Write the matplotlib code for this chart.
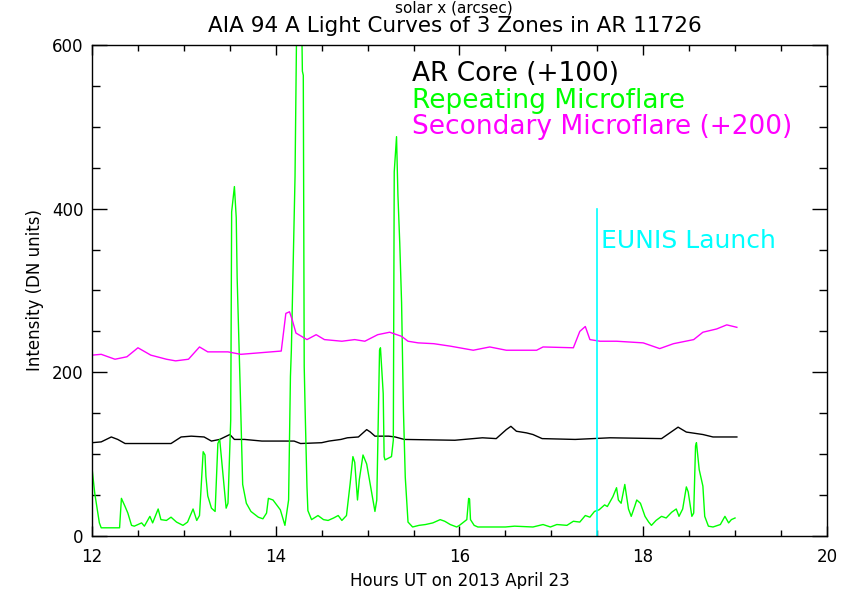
import numpy as np
import matplotlib
matplotlib.use("Agg")
import matplotlib.pyplot as plt
from matplotlib.ticker import MultipleLocator

# Repeating microflare (green), hours UT vs DN
green_t = [12.00, 12.03, 12.08, 12.10, 12.30, 12.32, 12.36, 12.39, 12.43, 12.46,
           12.54, 12.57, 12.63, 12.66, 12.72, 12.75, 12.81, 12.86, 12.92, 12.99,
           13.04, 13.10, 13.14, 13.17, 13.21, 13.23, 13.24, 13.26, 13.30, 13.34,
           13.37, 13.39, 13.43, 13.46, 13.48, 13.51, 13.52, 13.55, 13.57, 13.58,
           13.61, 13.63, 13.64, 13.68, 13.73, 13.81, 13.86, 13.90, 13.92, 13.97,
           14.05, 14.10, 14.14, 14.16, 14.17, 14.21, 14.23, 14.28, 14.29, 14.30,
           14.31, 14.32, 14.34, 14.35, 14.39, 14.46, 14.52, 14.57, 14.63, 14.68,
           14.72, 14.77, 14.81, 14.84, 14.86, 14.89, 14.91, 14.95, 14.99, 15.03,
           15.08, 15.10, 15.12, 15.13, 15.14, 15.17, 15.18, 15.19, 15.26, 15.28,
           15.29, 15.315, 15.33, 15.35, 15.37, 15.39, 15.41, 15.44, 15.49, 15.56,
           15.63, 15.71, 15.79, 15.84, 15.90, 15.97, 16.00, 16.08, 16.10, 16.11,
           16.12, 16.16, 16.20, 16.50, 16.60, 16.80, 16.91, 16.99, 17.06, 17.17,
           17.24, 17.31, 17.37, 17.42, 17.47, 17.52, 17.58, 17.61, 17.67, 17.71,
           17.73, 17.76, 17.80, 17.84, 17.87, 17.91, 17.93, 17.97, 18.02, 18.06,
           18.09, 18.14, 18.20, 18.25, 18.31, 18.36, 18.39, 18.43, 18.47, 18.49,
           18.53, 18.55, 18.57, 18.58, 18.61, 18.65, 18.67, 18.71, 18.76, 18.84,
           18.89, 18.93, 18.96, 19.00]
green_v = [83, 52, 16, 10, 10, 46, 36, 28, 13, 12,
           16, 12, 24, 16, 33, 20, 19, 23, 17, 13,
           17, 33, 19, 25, 103, 99, 73, 49, 34, 30,
           113, 118, 70, 34, 40, 142, 396, 427, 389, 315,
           193, 105, 63, 40, 30, 23, 21, 28, 46, 44,
           32, 13, 44, 195, 227, 439, 650, 650, 568, 563,
           207, 154, 60, 31, 20, 25, 20, 19, 22, 25,
           19, 25, 64, 97, 90, 44, 69, 99, 88, 62,
           30, 44, 170, 227, 230, 174, 97, 93, 97, 117,
           445, 488, 417, 358, 285, 154, 72, 17, 11, 13,
           14, 16, 20, 18, 14, 11, 13, 20, 46, 45,
           20, 13, 11, 11, 12, 11, 14, 11, 14, 13,
           18, 17, 25, 23, 30, 32, 38, 36, 48, 59,
           44, 40, 63, 33, 24, 37, 44, 40, 24, 17,
           13, 19, 24, 22, 29, 33, 24, 33, 60, 54,
           24, 28, 110, 114, 81, 61, 24, 12, 11, 14,
           24, 16, 20, 22]

# AR core (+100), black
core_t = [12.00, 12.10, 12.21, 12.28, 12.36, 12.86, 12.97, 13.08, 13.22, 13.30,
          13.39, 13.50, 13.55, 13.66, 13.85, 14.20, 14.27, 14.50, 14.58, 14.71,
          14.78, 14.90, 14.99, 15.03, 15.08, 15.23, 15.30, 15.40, 15.95, 16.25,
          16.40, 16.51, 16.56, 16.62, 16.73, 16.80, 16.90, 17.26, 17.64, 18.20,
          18.29, 18.38, 18.47, 18.65, 18.76, 19.02]
core_v = [114, 115, 121, 118, 113, 113, 121, 122, 121, 116,
          118, 124, 118, 118, 116, 116, 113, 114, 116, 118,
          120, 121, 130, 127, 122, 122, 121, 118, 117, 120,
          119, 130, 134, 128, 126, 124, 119, 118, 120, 119,
          126, 133, 127, 124, 121, 121]

# Secondary microflare (+200), magenta
sec_t = [12.00, 12.10, 12.25, 12.38, 12.50, 12.64, 12.81, 12.91, 13.05, 13.17,
         13.26, 13.48, 13.62, 13.84, 14.06, 14.11, 14.15, 14.18, 14.22, 14.34,
         14.44, 14.53, 14.72, 14.86, 14.97, 15.11, 15.24, 15.37, 15.44, 15.55,
         15.72, 15.90, 16.15, 16.33, 16.51, 16.84, 16.91, 17.24, 17.31, 17.37,
         17.42, 17.53, 17.71, 18.00, 18.18, 18.33, 18.55, 18.65, 18.80, 18.91,
         19.02]
sec_v = [221, 222, 216, 219, 230, 221, 216, 214, 216, 231,
         225, 225, 222, 224, 226, 272, 274, 264, 248, 240,
         246, 240, 238, 240, 238, 246, 249, 244, 238, 236,
         235, 232, 227, 231, 227, 227, 231, 230, 250, 256,
         240, 238, 238, 236, 229, 235, 240, 249, 253, 258,
         255]

launch_time = 17.5
launch_top = 400

fig = plt.figure(figsize=(8.56, 5.89), dpi=100)
ax = fig.add_axes([0.1075, 0.09, 0.8585, 0.8336])

ax.plot(core_t, core_v, color="black", lw=1.0)
ax.plot(green_t, green_v, color="#00ff00", lw=1.0)
ax.plot(sec_t, sec_v, color="#ff00ff", lw=1.0)
ax.plot([launch_time, launch_time], [0, launch_top], color="#00ffff", lw=1.2)

ax.set_xlim(12, 20)
ax.set_ylim(0, 600)
ax.xaxis.set_major_locator(MultipleLocator(2))
ax.xaxis.set_minor_locator(MultipleLocator(0.5))
ax.yaxis.set_major_locator(MultipleLocator(200))
ax.yaxis.set_minor_locator(MultipleLocator(50))
ax.tick_params(axis="both", which="both", direction="in", top=True, right=True,
               labelsize=12, width=1.0)
ax.tick_params(axis="x", which="major", length=7.5, pad=9)
ax.tick_params(axis="x", which="minor", length=4)
ax.tick_params(axis="y", which="major", length=11, pad=6)
ax.tick_params(axis="y", which="minor", length=6)
for s in ax.spines.values():
    s.set_linewidth(1.0)

ax.set_xlabel("Hours UT on 2013 April 23", fontsize=12, labelpad=4)
ax.set_ylabel("Intensity (DN units)", fontsize=12, labelpad=6)
fig.text(0.531, 0.956, "AIA 94 A Light Curves of 3 Zones in AR 11726",
         ha="center", va="center", fontsize=15.5)
fig.text(0.530, 0.999, "solar x (arcsec)", ha="center", va="top", fontsize=11)

ax.text(0.435, 0.940, "AR Core (+100)", transform=ax.transAxes, color="black",
        fontsize=19, va="center")
ax.text(0.435, 0.886, "Repeating Microflare", transform=ax.transAxes,
        color="#00ff00", fontsize=19, va="center")
ax.text(0.435, 0.833, "Secondary Microflare (+200)", transform=ax.transAxes,
        color="#ff00ff", fontsize=19, va="center")
ax.text(launch_time + 0.04, 360, "EUNIS Launch", color="#00ffff", fontsize=18,
        va="center")

fig.savefig("out.png", dpi=100)
